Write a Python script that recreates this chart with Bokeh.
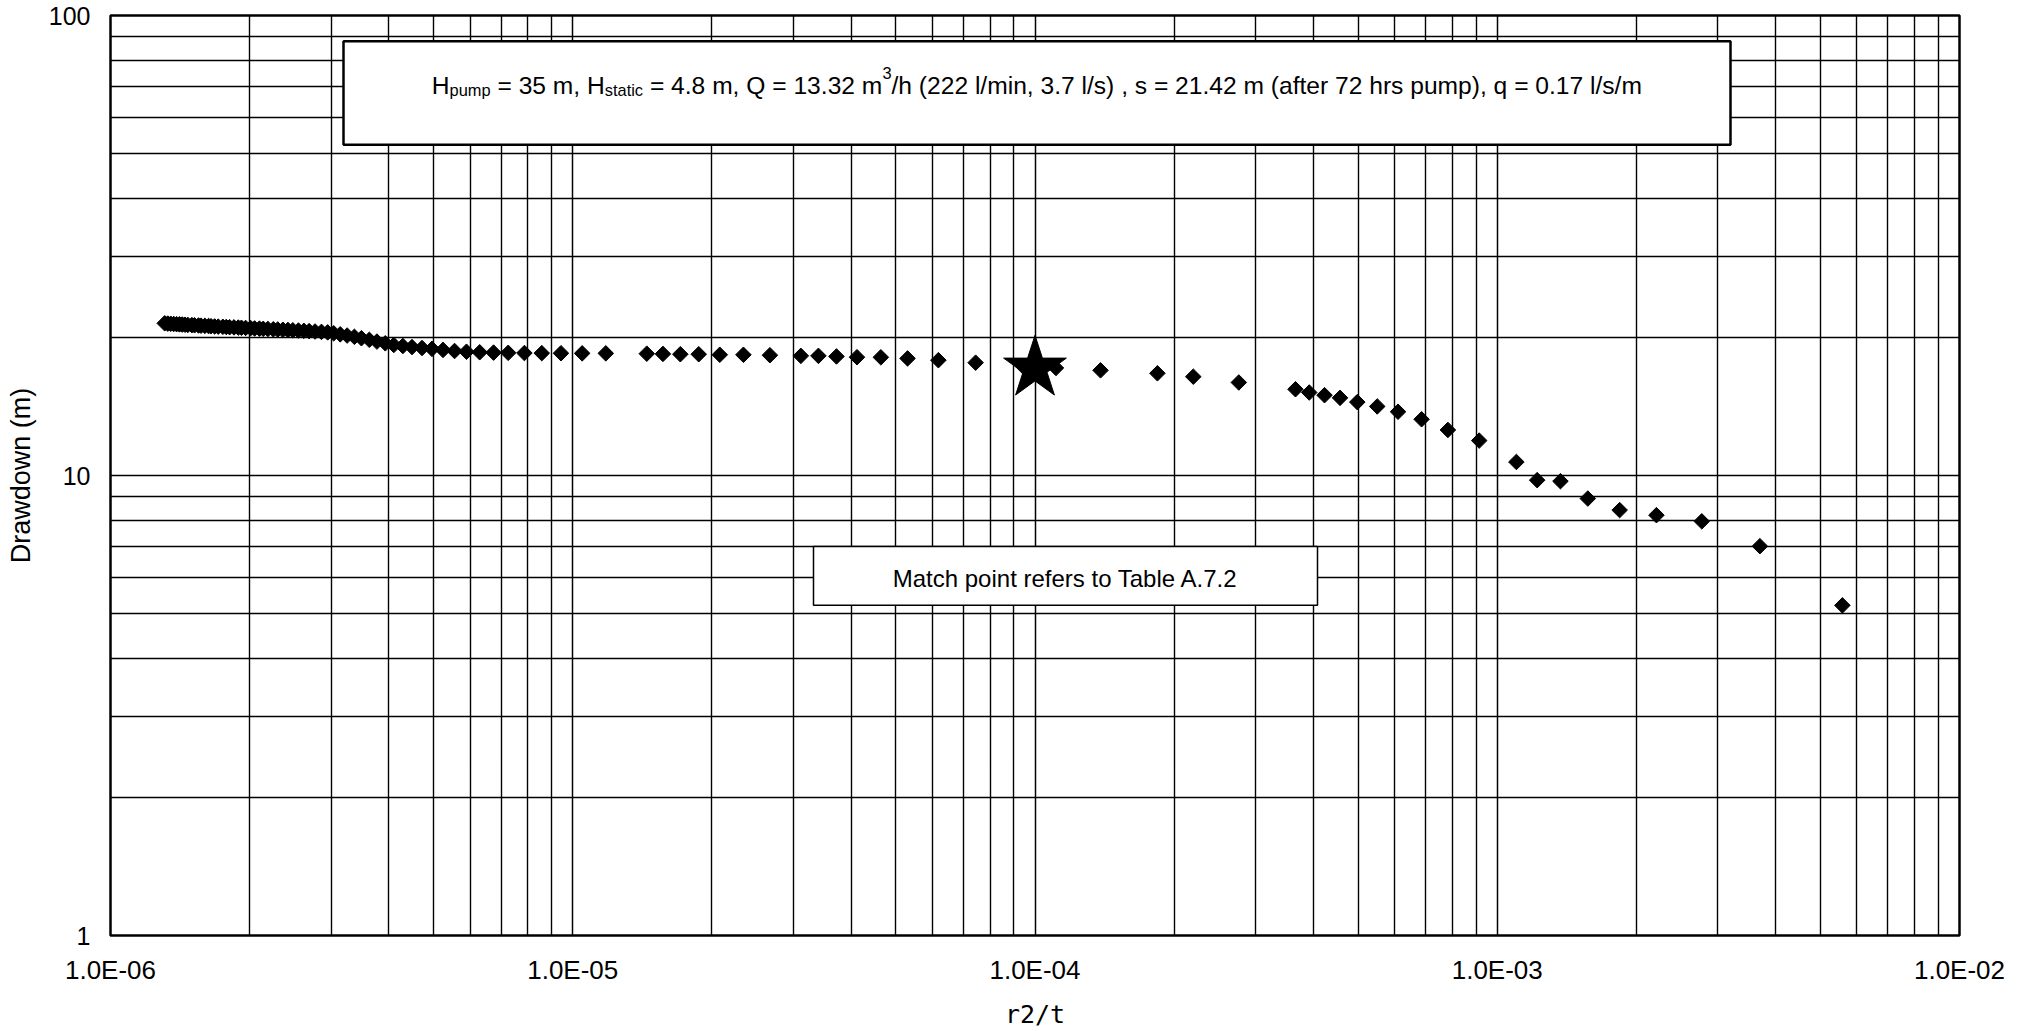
import math
from bokeh.plotting import figure
from bokeh.models import (Range1d, FixedTicker, CustomJSTickFormatter,
                          BoxAnnotation, Label)
from bokeh.embed import file_html
from bokeh.resources import INLINE

# ---------------- data ----------------
R2T = [5.58e-3, 3.70e-3, 2.77e-3, 2.21e-3, 1.84e-3, 1.57e-3, 1.37e-3, 1.22e-3,
       1.10e-3, 9.14e-4, 7.82e-4, 6.86e-4, 6.10e-4, 5.50e-4, 4.98e-4, 4.57e-4,
       4.23e-4, 3.92e-4, 3.66e-4, 2.76e-4, 2.20e-4, 1.84e-4, 1.386e-4, 1.11e-4,
       9.43e-5, 7.44e-5, 6.18e-5, 5.30e-5, 4.64e-5, 4.12e-5, 3.72e-5, 3.40e-5,
       3.115e-5, 2.67e-5, 2.34e-5, 2.08e-5, 1.873e-5, 1.709e-5, 1.567e-5, 1.446e-5,
       1.179e-5, 1.048e-5, 9.43e-6, 8.57e-6, 7.86e-6, 7.25e-6, 6.74e-6, 6.29e-6,
       5.89e-6, 5.55e-6, 5.24e-6, 4.96e-6, 4.72e-6, 4.49e-6, 4.29e-6, 4.10e-6,
       3.93e-6, 3.77e-6, 3.63e-6, 3.49e-6, 3.37e-6, 3.25e-6, 3.14e-6, 3.04e-6,
       2.95e-6, 2.86e-6, 2.77e-6, 2.69e-6, 2.62e-6, 2.55e-6, 2.48e-6, 2.42e-6,
       2.36e-6, 2.30e-6, 2.25e-6, 2.19e-6, 2.14e-6, 2.10e-6, 2.05e-6, 2.01e-6,
       1.96e-6, 1.92e-6, 1.89e-6, 1.85e-6, 1.81e-6, 1.78e-6, 1.75e-6, 1.71e-6,
       1.68e-6, 1.65e-6, 1.63e-6, 1.60e-6, 1.57e-6, 1.55e-6, 1.52e-6, 1.50e-6,
       1.47e-6, 1.45e-6, 1.43e-6, 1.41e-6, 1.39e-6, 1.37e-6, 1.35e-6, 1.33e-6,
       1.31e-6]

DRAWDOWN = [5.22, 7.02, 7.95, 8.20, 8.41, 8.91, 9.72, 9.77,
            10.70, 11.91, 12.56, 13.25, 13.76, 14.13, 14.44, 14.75,
            14.95, 15.15, 15.40, 15.93, 16.40, 16.68, 16.93, 17.13,
            17.25, 17.59, 17.81, 17.97, 18.07, 18.08, 18.15, 18.20,
            18.20, 18.26, 18.30, 18.30, 18.35, 18.35, 18.38, 18.40,
            18.43, 18.43, 18.44, 18.45, 18.46, 18.48, 18.50, 18.53,
            18.58, 18.65, 18.75, 18.85, 18.93, 19.02, 19.12, 19.22,
            19.38, 19.55, 19.72, 19.88, 20.02, 20.15, 20.27, 20.38,
            20.47, 20.52, 20.56, 20.60, 20.63, 20.66, 20.69, 20.72,
            20.74, 20.77, 20.79, 20.82, 20.84, 20.86, 20.88, 20.91,
            20.93, 20.95, 20.97, 20.99, 21.01, 21.03, 21.05, 21.07,
            21.09, 21.11, 21.13, 21.15, 21.17, 21.19, 21.21, 21.23,
            21.25, 21.27, 21.29, 21.31, 21.33, 21.35, 21.37, 21.39,
            21.42]

MATCH_R2T = [1.0e-4]
MATCH_S = [17.1]

X_MAJOR = [1e-6, 1e-5, 1e-4, 1e-3, 1e-2]
Y_MAJOR = [1, 10, 100]
X_TITLE = "r2/t"
Y_TITLE = "Drawdown (m)"
HEADER_PARTS = ["H", "pump", " = 35 m, H", "static", " = 4.8 m, Q = 13.32 m", "3",
                "/h (222 l/min, 3.7 l/s) , s = 21.42 m (after 72 hrs pump), q = 0.17 l/s/m"]
NOTE = "Match point refers to Table A.7.2"

# ---------------- layout ----------------
W, H = 2028, 1031
FL, FR, FT, FB = 110, 1959, 15, 940

X_MINOR = [m * 10.0 ** e for e in range(-6, -2) for m in range(2, 10)]
Y_MINOR = [m * 10.0 ** e for e in range(0, 2) for m in range(2, 10)]


def xd(px):
    return 10 ** (-6 + 4 * (px - FL) / (FR - FL))


def yd(py):
    return 10 ** (2 - 2 * (py - FT) / (FB - FT))


p = figure(width=W, height=H, x_axis_type="log", y_axis_type="log",
           x_range=Range1d(1e-6, 1e-2), y_range=Range1d(1, 100),
           output_backend="svg", toolbar_location=None,
           min_border_left=FL, min_border_right=W - FR,
           min_border_top=FT, min_border_bottom=H - FB)
p.background_fill_color = "white"
p.border_fill_color = "white"
p.outline_line_color = "black"
p.outline_line_width = 2.5

xt = FixedTicker(ticks=X_MAJOR, minor_ticks=X_MINOR)
yt = FixedTicker(ticks=Y_MAJOR, minor_ticks=Y_MINOR)
p.xaxis.ticker = xt
p.yaxis.ticker = yt
p.xgrid.ticker = xt
p.ygrid.ticker = yt

p.xaxis.formatter = CustomJSTickFormatter(code="""
const e = Math.round(Math.log10(tick));
const a = Math.abs(e);
return "1.0E" + (e < 0 ? "-" : "+") + (a < 10 ? "0" : "") + a;
""")
p.yaxis.formatter = CustomJSTickFormatter(code="return String(Math.round(tick));")

for ax in (p.xaxis[0], p.yaxis[0]):
    ax.axis_line_color = None
    ax.major_tick_in = 0
    ax.major_tick_out = 0
    ax.minor_tick_in = 0
    ax.minor_tick_out = 0
    ax.major_label_text_font = "Liberation Sans"
    ax.major_label_text_color = "black"
    ax.axis_label_text_font_style = "normal"
    ax.axis_label_text_color = "black"

p.xaxis.major_label_text_font_size = "26px"
p.xaxis.major_label_standoff = 19
p.xaxis.axis_label = X_TITLE
p.xaxis.axis_label_text_font = "DejaVu Sans Mono"
p.xaxis.axis_label_text_font_size = "25px"
p.xaxis.axis_label_standoff = 12

p.yaxis.major_label_text_font_size = "25px"
p.yaxis.major_label_standoff = 20
p.yaxis.axis_label = Y_TITLE
p.yaxis.axis_label_text_font = "Liberation Sans"
p.yaxis.axis_label_text_font_size = "27px"
p.yaxis.axis_label_standoff = 10

for g in (p.xgrid[0], p.ygrid[0]):
    g.grid_line_color = "black"
    g.grid_line_width = 1.5
    g.minor_grid_line_color = "black"
    g.minor_grid_line_width = 1.4

p.scatter(R2T, DRAWDOWN, marker="square", angle=math.pi / 4, size=11,
          fill_color="black", line_color="black", line_width=1)
p.scatter(MATCH_R2T, MATCH_S, marker="star", size=66, fill_color="black",
          line_color="black", line_width=1)

# ---------------- annotation boxes ----------------
p.add_layout(BoxAnnotation(left=xd(343), right=xd(1730), top=yd(41), bottom=yd(145),
                           fill_color="white", fill_alpha=1.0,
                           line_color="black", line_width=2.5, line_alpha=1.0))
p.add_layout(BoxAnnotation(left=xd(813), right=xd(1317), top=yd(549), bottom=yd(608),
                           fill_color="white", fill_alpha=1.0,
                           line_color="black", line_width=1.5, line_alpha=1.0))

# Arial / Liberation Sans advance widths (1/1000 em) for laying out the rich header text
AW = {' ': 278, '(': 333, ')': 333, ',': 278, '.': 278, '/': 278, '=': 584,
      'A': 667, 'H': 722, 'Q': 778, 'T': 611, 'M': 833,
      'a': 556, 'b': 556, 'c': 500, 'e': 556, 'f': 278, 'h': 556, 'i': 222,
      'l': 222, 'm': 833, 'n': 556, 'o': 556, 'p': 556, 'q': 556, 'r': 333,
      's': 500, 't': 278, 'u': 556}
for d in "0123456789":
    AW[d] = 556


def tw(s, size):
    return sum(AW.get(c, 556) for c in s) * size / 1000.0


MAIN, SMALL = 24.6, 16.4
part_style = [(MAIN, 0), (SMALL, 5), (MAIN, 0), (SMALL, 5), (MAIN, 0), (SMALL, -12), (MAIN, 0)]
total = sum(tw(t, s) for t, (s, _) in zip(HEADER_PARTS, part_style))
cx = (343 + 1730) / 2
base = 85
cur = cx - total / 2
for t, (s, dy) in zip(HEADER_PARTS, part_style):
    lead = len(t) - len(t.lstrip(" "))
    shown = t.strip(" ")
    left = cur + tw(" " * lead, s)
    p.add_layout(Label(x=xd(left), y=yd(base + dy), text=shown,
                       text_font="Liberation Sans", text_font_size=f"{s}px",
                       text_align="left", text_baseline="alphabetic",
                       text_color="black"))
    cur += tw(t, s)

p.add_layout(Label(x=xd((813 + 1317) / 2), y=yd(581), text=NOTE,
                   text_font="Liberation Sans", text_font_size="24px",
                   text_align="center", text_baseline="alphabetic",
                   text_color="black"))

open("out.html", "w").write(file_html(p, INLINE))
